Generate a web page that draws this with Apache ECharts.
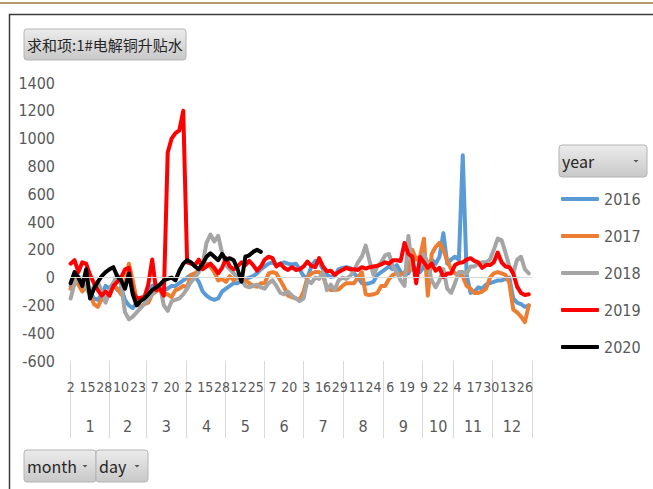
<!DOCTYPE html>
<html>
<head>
<meta charset="utf-8">
<script src="https://cdn.jsdelivr.net/npm/echarts@6/dist/echarts.min.js"></script>
<style>
  html, body { margin: 0; padding: 0; background: #fff; }
  #chart { width: 653px; height: 489px; }
</style>
</head>
<body>
<div id="chart"></div>
<script>
// categories: trading days (month, day) found in any year
const monthNames = ['1', '2', '3', '4', '5', '6', '7', '8', '9', '10', '11', '12']
const monthFirstDay = [2, 1, 1, 1, 2, 1, 1, 1, 1, 8, 1, 1]
const monthLastDay = [31, 29, 31, 30, 31, 30, 31, 31, 30, 31, 30, 31]

const yearNames = ['2016', '2017', '2018', '2019', '2020']
const yearColors = ['#5B9BD5', '#ED7D31', '#A5A5A5', '#FF0000', '#000000']

// values read every 3rd trading day
const sampleStep = 3
const v2016 = [
  -60, -20, 10, -40, -80, -100, -150, -160, -120, -60,
  -80, -40, -90, -70, -160, -200, -220, -180, -150, -140,
  -100, -60, -50, -80, -90, -80, -60, -60, -40, -20,
  0, 20, 10, -30, -100, -130, -150, -160, -150, -100,
  -80, -60, -40, -40, -20, -10, 0, 10, 30, 60,
  80, 100, 110, 90, 100, 110, 100, 95, 100, 60,
  10, 0, 80, 120, 110, 60, 20, 5, 10, 60, 70,
  75, 70, 30, 0, -40, -45, -40, -30, 20, 40,
  60, 80, 60, 90, 40, 20, 30, 90, 60, 40,
  80, 100, 130, 100, 150, 320, 100, 130,
  150, 130, 880, 20, -110, -100, -70, -80, -50, -40,
  -30, -20, -20, -10, 0, -150, -180, -190, -210, -200
]
const v2017 = [
  -80, -20, -50, -100, -60, -120, -190, -210, -150, -170,
  -100, -60, -80, -120, -30, 100, -20, -160, -210, -190,
  -180, -120, -100, -80, -110, -120, -140, -90, -80, -60,
  -70, 20, 30, 50, 90, 100, 80, 40, -20, -10,
  -30, 10, -20, 0, -10, -20, -40, -60, -65, -40,
  -40, 30, 40, 30, -20, -70, -130, -140, -150, -160,
  -100, 0, 30, 40, 40, 10, -70, -90, -90, -85, -60,
  -40, -40, -40, 0, 40, -120, -125, -120, -110, -60,
  -60, -10, 20, 30, 20, 40, 50, 200, 130, 150,
  280, -130, 170, 220, 250, 200, 120, 60,
  30, 20, 10, -60, -80, -110, -110, -100, -80, 0,
  30, 40, 30, 20, -40, -230, -250, -280, -320, -200
]
const v2018 = [
  -150, -40, 0, -20, -80, -120, -60, -30, -100, -180,
  -100, -40, 20, -50, -250, -300, -280, -250, -220, -190,
  -150, -120, -80, -60, -200, -240, -170, -160, -150, -120,
  -80, -30, 0, 40, 100, 250, 310, 260, 300, 180,
  90, 60, 30, 0, -20, -60, -70, -60, -50, -70,
  -80, -40, -20, -60, -110, -120, -100, -130, -150, -170,
  -150, -20, -40, 0, -10, 40, -90, -50, -90, -20, 0,
  -10, 10, 50, 110, 150, 230, 120, 20, 80, 110,
  160, 170, 80, 40, -20, -60, 300, 60, 40, 80,
  170, 100, -20, -70, -20, 60, -80, -110,
  -40, 40, 40, 30, 80, 80, 100, 110, 110, 130,
  200, 280, 270, 180, 80, 30, 130, 150, 60, 30
]
const v2019 = [
  100, 125, 40, 110, 100, 20, -40, -90, -130, -100,
  -130, -60, -30, 0, 60, 70, -100, -150, -145, -140,
  -50, 130, -90, -80, -130, 900, 1000, 1040, 1060, 1200,
  110, 100, 90, 130, 60, 80, 100, 70, 30, 70,
  140, 80, 60, 80, 110, 90, 120, 90, 50, 80,
  130, 150, 140, 80, 100, 70, 55, 75, 55, 60,
  80, 115, 85, 75, 140, 80, 45, 50, 20, 40, 55,
  70, 60, 60, 55, 75, 65, 75, 80, 85, 95,
  110, 100, 125, 125, 120, 250, 170, 150, -40, 148,
  110, 70, 100, 50, 70, 5, 30, 30,
  90, 105, 110, 130, 140, 120, 110, 70, 90, 90,
  110, 180, 110, 80, 75, 30, -65, -110, -125, -120
]
const v2020 = [
  -40, 40, 0, -60, 60, -150, -80, -30, 10, 40,
  60, 75, 10, -20, -80, 30, -120, -200, -170, -150,
  -120, -90, -70, -50, -20, -10, 0, -20, 50, 100,
  125, 110, 80, 60, 100, 150, 175, 150, 125, 170,
  130, 140, 125, 60, -30, 150, 160, 185, 200, 185
]
const yearValues = [v2016, v2017, v2018, v2019, v2020]

const fontFamily = "'Liberation Sans Narrow', 'DejaVu Sans Condensed', sans-serif"
const textColor = '#595959'

// build category list "month-day"
const categories = []
const monthStart = new Set()
const monthMid = new Set()
monthNames.forEach((m, k) => {
  const n = monthLastDay[k] - monthFirstDay[k] + 1
  monthStart.add(categories.length)
  monthMid.add(categories.length + Math.floor(n / 2))
  for (let d = monthFirstDay[k]; d <= monthLastDay[k]; d++) {
    categories.push(m + '-' + d)
  }
})
monthStart.add(categories.length)

function toPairs(values) {
  return values.map((v, k) => [k * sampleStep, v])
}

function button(x, y, w, h, label, withArrow, fontSize) {
  const children = [
    {
      type: 'rect',
      shape: { x: x, y: y, width: w, height: h, r: 3 },
      style: {
        fill: new echarts.graphic.LinearGradient(0, 0, 0, 1, [
          { offset: 0, color: '#ececec' },
          { offset: 1, color: '#c8c8c8' }
        ]),
        stroke: '#b4b4b4',
        lineWidth: 1
      }
    },
    {
      type: 'text',
      style: {
        x: x + 3, y: y + h / 2, text: label,
        fill: '#262626', fontSize: fontSize,
        fontFamily: "'Noto Sans CJK SC', " + fontFamily,
        verticalAlign: 'middle'
      }
    }
  ]
  if (withArrow) {
    const ax = x + w - 11
    const ay = y + h / 2
    children.push({
      type: 'polygon',
      shape: { points: [[ax - 2.5, ay - 1], [ax + 2.5, ay - 1], [ax, ay + 1.5]] },
      style: { fill: '#555' }
    })
  }
  return { type: 'group', children: children }
}

const series = [{
  name: 'zero',
  type: 'line',
  data: [],
  z: 1,
  markLine: {
    silent: true,
    symbol: 'none',
    label: { show: false },
    lineStyle: { color: '#d9d9d9', width: 1, type: 'solid' },
    data: [{ yAxis: 0 }]
  }
}]
yearNames.forEach((name, k) => {
  series.push({
    name: name,
    type: 'line',
    data: toPairs(yearValues[k]),
    showSymbol: false,
    symbol: 'none',
    z: 2,
    lineStyle: { color: yearColors[k], width: 4, cap: 'round', join: 'round' },
    itemStyle: { color: yearColors[k] },
    emphasis: { disabled: true }
  })
})

const chart = echarts.init(document.getElementById('chart'), null, { renderer: 'svg' })
chart.setOption({
  animation: false,
  backgroundColor: '#fff',
  grid: { left: 70, right: 121, top: 83, bottom: 128 },
  legend: {
    data: yearNames,
    orient: 'vertical',
    left: 556,
    top: 186,
    itemWidth: 38,
    itemHeight: 4,
    itemGap: 21,
    icon: 'roundRect',
    textStyle: { color: textColor, fontSize: 16, fontFamily: fontFamily },
    selectedMode: false
  },
  xAxis: [
    {
      type: 'category',
      data: categories,
      boundaryGap: true,
      position: 'bottom',
      axisLine: { show: false, onZero: false },
      axisTick: {
        show: true,
        length: 77,
        interval: (idx) => monthStart.has(idx),
        lineStyle: { color: '#d9d9d9', width: 1 }
      },
      axisLabel: {
        interval: (idx) => idx % 13 === 0,
        margin: 19,
        color: textColor,
        fontSize: 14,
        fontFamily: fontFamily,
        formatter: (v) => v.split('-')[1]
      },
      splitLine: { show: false }
    },
    {
      type: 'category',
      data: categories,
      boundaryGap: true,
      position: 'bottom',
      axisLine: { show: false, onZero: false },
      axisTick: { show: false },
      axisLabel: {
        interval: (idx) => monthMid.has(idx),
        margin: 57,
        color: textColor,
        fontSize: 16,
        fontFamily: fontFamily,
        formatter: (v) => v.split('-')[0]
      },
      splitLine: { show: false }
    }
  ],
  yAxis: {
    type: 'value',
    min: -600,
    max: 1400,
    interval: 200,
    axisLine: { show: false },
    axisTick: { show: false },
    splitLine: { show: false },
    axisLabel: {
      color: textColor, fontSize: 16, fontFamily: fontFamily, margin: 15,
      formatter: (v) => String(v)
    }
  },
  series: series,
  graphic: [
    { type: 'line', shape: { x1: 0, y1: 3, x2: 653, y2: 3 }, style: { stroke: '#b09a6e', lineWidth: 2 } },
    { type: 'polyline', shape: { points: [[9.5, 489], [9.5, 14.5], [653, 14.5]] }, style: { stroke: '#3c3c3c', lineWidth: 1.5, fill: null } },
    button(24, 29, 162, 31, '求和项:1#电解铜升贴水', false, 15),
    button(559, 145, 88, 32, 'year', true, 16),
    button(24, 450, 72, 32, 'month', true, 16),
    button(96, 450, 52, 32, 'day', true, 16)
  ]
})
</script>
</body>
</html>
